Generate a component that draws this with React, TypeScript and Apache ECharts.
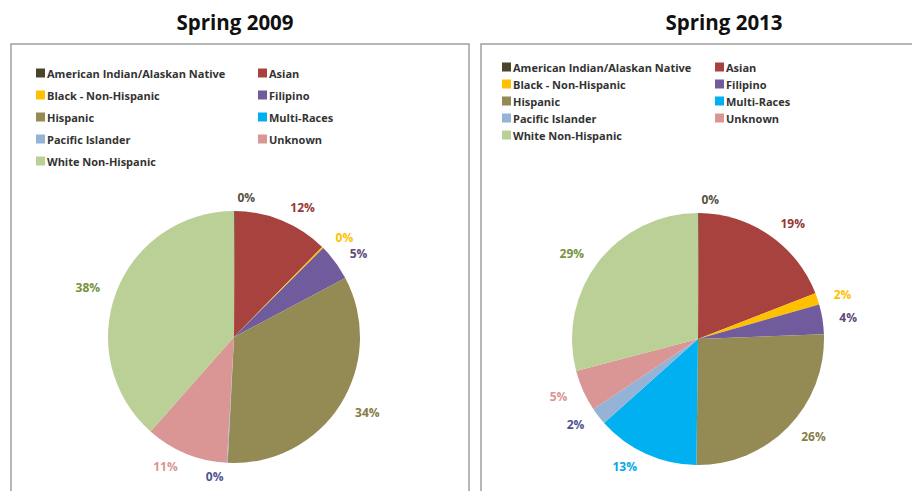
import React, { useEffect, useRef } from "react";
import * as echarts from "echarts";

const categories = [
  "American Indian/Alaskan Native",
  "Asian",
  "Black - Non-Hispanic",
  "Filipino",
  "Hispanic",
  "Multi-Races",
  "Pacific Islander",
  "Unknown",
  "White Non-Hispanic",
];

// percentage shares
const values2009 = [0.1, 12.2, 0.2, 4.7, 33.5, 0, 0.1, 10.6, 38.4];
const values2013 = [0.1, 19.0, 1.5, 3.8, 25.8, 13.2, 2.2, 5.3, 29.1];

const titles = ["Spring 2009", "Spring 2013"];

const sliceColors = [
  "#4A452A",
  "#A7423F",
  "#FFC000",
  "#705B9C",
  "#948A54",
  "#00B0F0",
  "#95B3D7",
  "#D99694",
  "#BAD096",
];
const labelColors = [
  "#55523F",
  "#953735",
  "#FFC000",
  "#5F497A",
  "#857D48",
  "#00A8E8",
  "#4F5490",
  "#D99694",
  "#77933C",
];

const leftCol = [categories[0], categories[2], categories[4], categories[6], categories[8]];
const rightCol = [categories[1], categories[3], categories[5], categories[7]];

const FONT = "'Open Sans'";

function buildData(vals: number[], hideZeroSeries: boolean) {
  return categories.map((name, i) => ({
    name,
    value: vals[i],
    itemStyle: { color: sliceColors[i], borderWidth: 0 },
    label: {
      color: labelColors[i],
      show: !(hideZeroSeries && vals[i] === 0),
    },
  }));
}

function makeLegend(data: string[], left: number, top: number, gap: number) {
  return {
    orient: "vertical",
    left,
    top,
    padding: 0,
    itemWidth: 9,
    itemHeight: 9,
    itemGap: gap,
    icon: "rect",
    selectedMode: false,
    data,
    textStyle: {
      fontFamily: FONT,
      fontSize: 11,
      fontWeight: "bold",
      color: "#333",
      lineHeight: 14,
      padding: [0, 0, 0, -3],
    },
  };
}

function pieSeries(name: string, vals: number[], center: number[], hideZero: boolean) {
  return {
    type: "pie",
    name,
    center,
    radius: 126,
    startAngle: 90,
    clockwise: true,
    avoidLabelOverlap: false,
    minShowLabelAngle: 0,
    itemStyle: { borderWidth: 0 },
    data: buildData(vals, hideZero),
    label: {
      show: true,
      position: "outside",
      formatter: (p: any) => `${Math.round(p.value)}%`,
      fontFamily: FONT,
      fontSize: 12,
      fontWeight: "bold",
      distanceToLabelLine: 3,
    },
    labelLine: { show: false, length: 14, length2: 0 },
    emphasis: { disabled: true },
  };
}

export default function App() {
  const ref = useRef<HTMLDivElement>(null);
  useEffect(() => {
    if (!ref.current) return;
    const chart = echarts.init(ref.current, null, { renderer: "svg" });
    chart.setOption({
      animation: false,
      backgroundColor: "#ffffff",
      graphic: [
        {
          type: "rect",
          z: -1,
          shape: { x: 11, y: 44, width: 458, height: 470 },
          style: { fill: "none", stroke: "#a0a0a0", lineWidth: 1.5 },
        },
        {
          type: "rect",
          z: -1,
          shape: { x: 481, y: 44, width: 460, height: 470 },
          style: { fill: "none", stroke: "#a0a0a0", lineWidth: 1.5 },
        },
        {
          type: "text",
          x: 235,
          y: 22,
          style: {
            text: titles[0],
            fontFamily: FONT,
            fontSize: 20.5,
            fontWeight: "bold",
            fill: "#111",
            align: "center",
            verticalAlign: "middle",
          },
        },
        {
          type: "text",
          x: 724,
          y: 22,
          style: {
            text: titles[1],
            fontFamily: FONT,
            fontSize: 20.5,
            fontWeight: "bold",
            fill: "#111",
            align: "center",
            verticalAlign: "middle",
          },
        },
      ],
      legend: [
        makeLegend(leftCol, 36, 66, 8),
        makeLegend(rightCol, 258, 66, 8),
        makeLegend(leftCol, 502, 60, 3),
        makeLegend(rightCol, 715, 60, 3),
      ],
      series: [
        pieSeries(titles[0], values2009, [234, 337], true),
        pieSeries(titles[1], values2013, [698, 339], false),
      ],
    });
    return () => chart.dispose();
  }, []);
  return (
    <div
      ref={ref}
      style={{ position: "absolute", left: 0, top: 0, width: 912, height: 491, background: "#fff" }}
    />
  );
}
